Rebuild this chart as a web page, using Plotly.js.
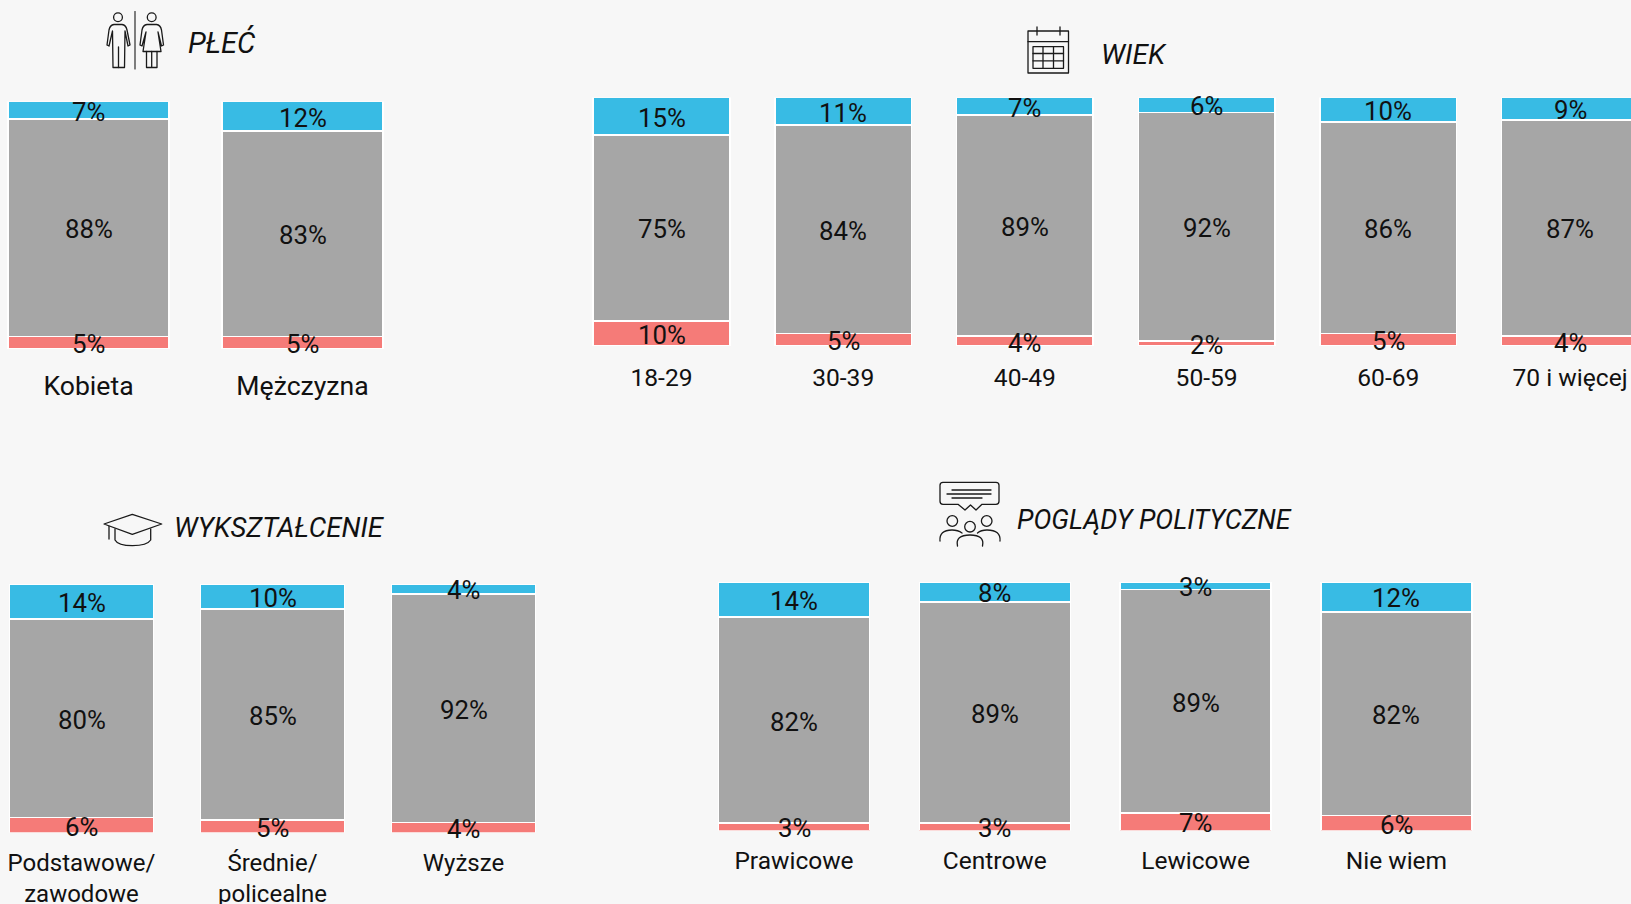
<!DOCTYPE html>
<html><head><meta charset="utf-8">
<script src="https://cdn.plot.ly/plotly-3.0.1.min.js"></script>
<style>html,body{margin:0;padding:0;background:#f7f7f7;overflow:hidden}</style>
</head><body><div id="chart" style="width:1631px;height:904px"></div>
<script>
// ---- data ----
const plecCategories = ['Kobieta', 'Mężczyzna'];
const plecRed   = [5, 5];
const plecGrey  = [88, 83];
const plecBlue  = [7, 12];

const wiekCategories = ['18-29', '30-39', '40-49', '50-59', '60-69', '70 i więcej'];
const wiekRed   = [10, 5, 4, 2, 5, 4];
const wiekGrey  = [75, 84, 89, 92, 86, 87];
const wiekBlue  = [15, 11, 7, 6, 10, 9];

const wyksztCategories = ['Podstawowe/<br>zawodowe', 'Średnie/<br>policealne', 'Wyższe'];
const wyksztRed  = [6, 5, 4];
const wyksztGrey = [80, 85, 92];
const wyksztBlue = [14, 10, 4];

const pogladyCategories = ['Prawicowe', 'Centrowe', 'Lewicowe', 'Nie wiem'];
const pogladyRed  = [3, 3, 7, 6];
const pogladyGrey = [82, 89, 89, 82];
const pogladyBlue = [14, 8, 3, 12];

const W = 1631, H = 904;
const COLORS = {red:'#f57b78', grey:'#a6a6a6', blue:'#38bbe4'};
const FONT = 'Roboto, sans-serif', INK = '#111111';

const panels = [
  {cats:plecCategories, r:plecRed, g:plecGrey, b:plecBlue, dom:[0,430], c0:88.5, step:214, top:101.5, bottom:349, lab:26.6, st:12.8},
  {cats:wiekCategories, r:wiekRed, g:wiekGrey, b:wiekBlue, dom:[570,1631], c0:661.5, step:181.7, top:97.5, bottom:346, lab:24.6, st:9.8},
  {cats:wyksztCategories, r:wyksztRed, g:wyksztGrey, b:wyksztBlue, dom:[0,560], c0:81.5, step:191, top:584, bottom:832.5, lab:24, st:8.6},
  {cats:pogladyCategories, r:pogladyRed, g:pogladyGrey, b:pogladyBlue, dom:[700,1490], c0:794, step:200.8, top:582, bottom:830.5, lab:24.5, st:8.4}
];
const LABEL_SIZE = 25.8;

const traces = [];
const layout = {
  width:W, height:H, margin:{l:0,r:0,t:0,b:0},
  paper_bgcolor:'#f7f7f7', plot_bgcolor:'rgba(0,0,0,0)',
  barmode:'stack', barnorm:'percent', bargap:0.248, showlegend:false,
  font:{family:FONT, color:INK},
  annotations:[], images:[]
};

panels.forEach((p,i)=>{
  const n = i===0 ? '' : String(i+1);
  const xa = 'xaxis'+n, ya = 'yaxis'+n;
  const series = [['Czerwony',p.r,COLORS.red],['Szary',p.g,COLORS.grey],['Niebieski',p.b,COLORS.blue]];
  series.forEach(s=>{
    traces.push({
      type:'bar', name:s[0], x:p.cats, y:s[1], xaxis:'x'+n, yaxis:'y'+n,
      marker:{color:s[2], line:{color:'#ffffff', width:1.5}}, hoverinfo:'skip'
    });
  });
  // value labels, centred on each stacked segment and free to overflow thin ones
  p.cats.forEach((c,k)=>{
    const total = p.r[k]+p.g[k]+p.b[k];
    let base = 0;
    series.forEach(s=>{
      const v = s[1][k];
      layout.annotations.push({
        text:v+'%', xref:'x'+n, yref:'y'+n, x:k, y:(base+v/2)/total*100,
        yshift:-1.5, xanchor:'center', yanchor:'middle', showarrow:false,
        font:{family:FONT, size:LABEL_SIZE, color:INK}
      });
      base += v;
    });
  });
  layout[xa] = {
    domain:[p.dom[0]/W, p.dom[1]/W],
    range:[(p.dom[0]-p.c0)/p.step, (p.dom[1]-p.c0)/p.step],
    type:'category', categoryorder:'array', categoryarray:p.cats,
    anchor:'y'+n, showgrid:false, zeroline:false, showline:false,
    ticks:'outside', ticklen:p.st, tickcolor:'rgba(0,0,0,0)', tickangle:0, dtick:1,
    tickfont:{family:FONT, size:p.lab, color:INK}, automargin:false
  };
  layout[ya] = {
    domain:[1-p.bottom/H, 1-p.top/H], range:[0,100], anchor:'x'+n,
    showgrid:false, zeroline:false, showline:false, showticklabels:false, ticks:''
  };
});

[['PŁEĆ',186,42,29],['WIEK',1099,54.5,28],['WYKSZTAŁCENIE',172,527.5,27.5],['POGLĄDY POLITYCZNE',1015,520,26.8]].forEach(t=>{
  layout.annotations.push({text:t[0], xref:'paper', yref:'paper', x:t[1]/W, y:1-t[2]/H,
    xanchor:'left', yanchor:'middle', showarrow:false,
    font:{family:FONT, size:t[3], style:'italic', color:INK}});
});

function icon(x,y,w,h,inner){
  const svg = `<svg xmlns="http://www.w3.org/2000/svg" width="${w*2}" height="${h*2}" viewBox="${x} ${y} ${w} ${h}"><g fill="none" stroke="#1a1a1a" stroke-width="1.3" stroke-linejoin="round" stroke-linecap="round">${inner}</g></svg>`;
  layout.images.push({source:'data:image/svg+xml;charset=utf-8,'+encodeURIComponent(svg),
    xref:'paper', yref:'paper', x:x/W, y:1-y/H, sizex:w/W, sizey:h/H,
    xanchor:'left', yanchor:'top', sizing:'stretch', layer:'above'});
}
icon(100,5,70,70,`
<circle cx="118" cy="17.3" r="4.4"/>
<path d="M107 45 L109 30 Q110 25 114 24.5 L122 24.5 Q126 25 127 30 L130 45 L128 46 L125 31 L124.5 67.5 L113 67.5 L112.5 31 L109 46 Z"/>
<path d="M118.5 47 V67.5"/>
<path d="M135 11.5 V69" stroke-width="1.1"/>
<circle cx="151.7" cy="17.3" r="4.4"/>
<path d="M140 45 L142 30 Q143 25 147 24.5 L156.5 24.5 Q160.5 25 161.5 30 L163.5 45 L161.5 46 L158 32 L161 51.5 L143 51.5 L146 32 L142 46 Z"/>
<path d="M146.5 51.5 V67.5 H157 V51.5 M151.7 51.5 V67.5"/>`);
icon(1022,22,52,56,`
<rect x="1028" y="31" width="40.5" height="42"/>
<path d="M1028 41.7 H1068.5 M1037 27 V35 M1060 27 V35"/>
<rect x="1033" y="46.7" width="30.5" height="21.6"/>
<path d="M1033 53.5 H1063.5 M1033 60.8 H1063.5 M1043 46.7 V68.3 M1053.5 46.7 V68.3"/>`);
icon(100,510,66,40,`
<path d="M104 524 L132.3 514.3 L161.7 524 L132.3 534.3 Z"/>
<path d="M115 529 V540 Q118 545.7 132.5 545.7 Q147 545.7 150.7 540 V529"/>
<path d="M109 526.5 V539"/>`);
icon(935,478,70,72,`
<path d="M943 482.3 H996 Q999 482.3 999 485.3 V501.3 Q999 504.3 996 504.3 H982 L976 510 L970.5 505 L965 510 L958 504.3 H943 Q940 504.3 940 501.3 V485.3 Q940 482.3 943 482.3 Z"/>
<path d="M952 490 H991 M947 494 H991 M952 498 H982"/>
<circle cx="952.3" cy="521" r="5.3"/><circle cx="970" cy="526.7" r="5.3"/><circle cx="986.7" cy="521" r="5.3"/>
<path d="M940 541 Q939 530 952 530 Q958 530 962 533"/>
<path d="M957.5 546 Q955 535 970 535 Q985 535 982.5 546"/>
<path d="M1000 541 Q1001 530 987 530 Q981 530 977.5 533"/>`);

Plotly.newPlot('chart', traces, layout, {displayModeBar:false, responsive:false, staticPlot:true});
</script></body></html>
